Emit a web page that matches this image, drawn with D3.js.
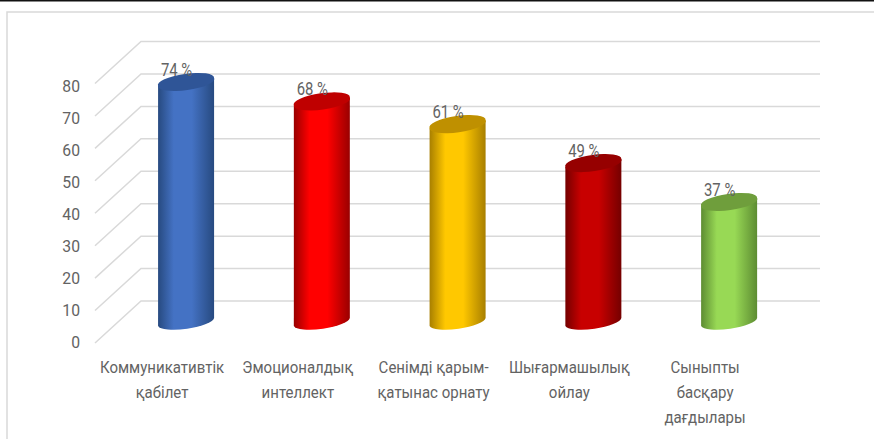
<!DOCTYPE html>
<html><head><meta charset="utf-8">
<script src="https://cdn.jsdelivr.net/npm/d3@7"></script>
<style>html,body{margin:0;padding:0;background:#fff}svg{display:block}text{font-family:Roboto,sans-serif;fill:#636363}</style>
</head><body><svg id="c" width="874" height="439"></svg>
<script>
const categories=[["Коммуникативтік","қабілет"],["Эмоционалдық","интеллект"],["Сенімді қарым-","қатынас орнату"],["Шығармашылық","ойлау"],["Сыныпты","басқару","дағдылары"]];
const values=[74,68,61,49,37];
const valueLabels=["74 %","68 %","61 %","49 %","37 %"];
const ticks=[0,10,20,30,40,50,60,70,80];
const bodyEdge=["#274a80","#990000","#a87f00","#750000","#5d8c32"];
const bodyMid=["#4472c4","#ff0000","#ffc800","#c80000","#98d955"];
const capColor=["#2f5597","#bf0000","#bf9000","#960000","#6f9e3c"];

const svg=d3.select("#c");
const W=874,H=439;
const y=d3.scaleLinear().domain([0,80]).range([322,62.5]);
const tickY=d3.scaleLinear().domain([0,80]).range([348,92]);
const x=d3.scaleBand().domain(d3.range(values.length)).range([118.2,797]).paddingInner(0).paddingOuter(0);
const dy=21;
svg.append("rect").attr("x",0).attr("y",0).attr("width",W).attr("height",1.5).attr("fill","#111");
svg.append("rect").attr("x",7).attr("y",12).attr("width",W-7+5).attr("height",H).attr("fill","none").attr("stroke","#d9d9d9").attr("stroke-width",1.5);
const g=svg.append("g").attr("fill","none").attr("stroke","#d9d9d9").attr("stroke-width",1.5);
ticks.forEach(t=>{
  const yy=y(t);
  g.append("path").attr("d",d3.line()([[95,yy+dy],[141,yy-dy],[820,yy-dy]]));
});
function label(px,py,str,size,sx,anchor){
  return svg.append("text").attr("transform",`translate(${px},${py}) scale(${sx},1)`)
    .attr("text-anchor",anchor).attr("font-size",size).text(str);
}
ticks.forEach(t=>label(80,tickY(t),t,17.3,.91,"end"));
const defs=svg.append("defs");
values.forEach((v,i)=>{
  const gr=defs.append("linearGradient").attr("id","b"+i);
  [[0,bodyEdge[i]],[.28,bodyMid[i]],[.6,bodyMid[i]],[1,bodyEdge[i]]].forEach(s=>gr.append("stop").attr("offset",s[0]).attr("stop-color",s[1]));
});
const rx=28.4,ry=7.5,rot=-8,hw=28,tilt=4;
const bars=svg.append("g");
values.forEach((v,i)=>{
  const cx=x(i)+x.bandwidth()/2, y0=y(0), y1=y(v);
  bars.append("path").attr("fill",`url(#b${i})`)
    .attr("d",`M${cx-hw},${y1+tilt} L${cx-hw},${y0+tilt} A${rx},${ry} ${rot} 0 0 ${cx+hw},${y0-tilt} L${cx+hw},${y1-tilt} Z`);
  bars.append("path").attr("fill",capColor[i])
    .attr("d",`M${cx-hw},${y1+tilt} A${rx},${ry} ${rot} 1 1 ${cx+hw},${y1-tilt} A${rx},${ry} ${rot} 1 1 ${cx-hw},${y1+tilt} Z`);
});
values.forEach((v,i)=>{
  const cx=x(i)+x.bandwidth()/2;
  label(cx-9.5,y(v)-6,valueLabels[i],17.5,.85,"middle");
  categories[i].forEach((s,k)=>label(cx-24,373+k*25,s,16.5,.91,"middle"));
});
</script></body></html>
